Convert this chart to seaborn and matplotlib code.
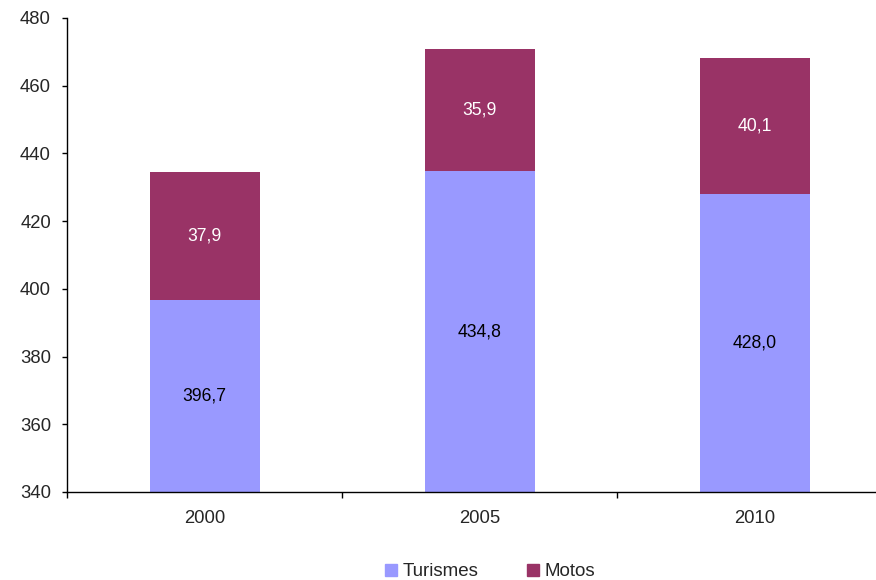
import pandas as pd
import seaborn as sns
import matplotlib.pyplot as plt
from matplotlib.patches import Patch

# dados
anos = ['2000', '2005', '2010']
turismes = [396.7, 434.8, 428.0]
motos = [37.9, 35.9, 40.1]

cor_turismes = '#9999FF'
cor_motos = '#993366'

df = pd.DataFrame({'ano': anos, 'turismes': turismes, 'motos': motos})
df['total'] = df['turismes'] + df['motos']

sns.set_style('white')
plt.rcParams['font.family'] = ['Liberation Sans', 'DejaVu Sans']

fig = plt.figure(figsize=(8.76, 5.8), dpi=100)
# eixo passa da borda direita (como no original, cortado)
ax = fig.add_axes([67 / 876, (580 - 492) / 580, 825 / 876, (492 - 18) / 580])

# barra total (motos) por baixo, turismes por cima
sns.barplot(data=df, x='ano', y='total', color=cor_motos, width=0.4,
            saturation=1, linewidth=0, edgecolor='none', ax=ax)
sns.barplot(data=df, x='ano', y='turismes', color=cor_turismes, width=0.4,
            saturation=1, linewidth=0, edgecolor='none', ax=ax)

ax.set_ylim(340, 480)
ax.set_xlim(-0.5, 2.5)
ax.set_yticks(range(340, 481, 20))
ax.set_xlabel('')
ax.set_ylabel('')

# rótulos
ymin = 340
for i in range(len(anos)):
    ax.text(i, (ymin + turismes[i]) / 2, f'{turismes[i]:.1f}'.replace('.', ','),
            ha='center', va='center', fontsize=12.7, color='black')
    ax.text(i, turismes[i] + motos[i] / 2, f'{motos[i]:.1f}'.replace('.', ','),
            ha='center', va='center', fontsize=12.7, color='white')

# ticks do eixo x entre categorias (estilo Excel)
ax.set_xticks([0, 1, 2])
ax.set_xticklabels(anos, fontsize=13.3)
ax.set_xticks([-0.5, 0.5, 1.5, 2.5], minor=True)
ax.tick_params(axis='x', which='major', length=0, pad=13)
ax.tick_params(axis='x', which='minor', length=4.3, width=1, direction='out',
               color='black', bottom=True)
ax.tick_params(axis='y', length=3.6, width=1, direction='out', color='black',
               left=True, labelsize=13.3, pad=8)

for lado in ['top', 'right']:
    ax.spines[lado].set_visible(False)
for lado in ['left', 'bottom']:
    ax.spines[lado].set_color('black')
    ax.spines[lado].set_linewidth(1)

handles = [Patch(color=cor_turismes, label='Turismes'),
           Patch(color=cor_motos, label='Motos')]
fig.legend(handles=handles, loc='center', bbox_to_anchor=(490 / 876, 8 / 580),
           ncol=2, frameon=False, fontsize=13.5, handlelength=0.65,
           handleheight=0.65, handletextpad=0.3, columnspacing=2.6)

fig.savefig('out.png', dpi=100)
